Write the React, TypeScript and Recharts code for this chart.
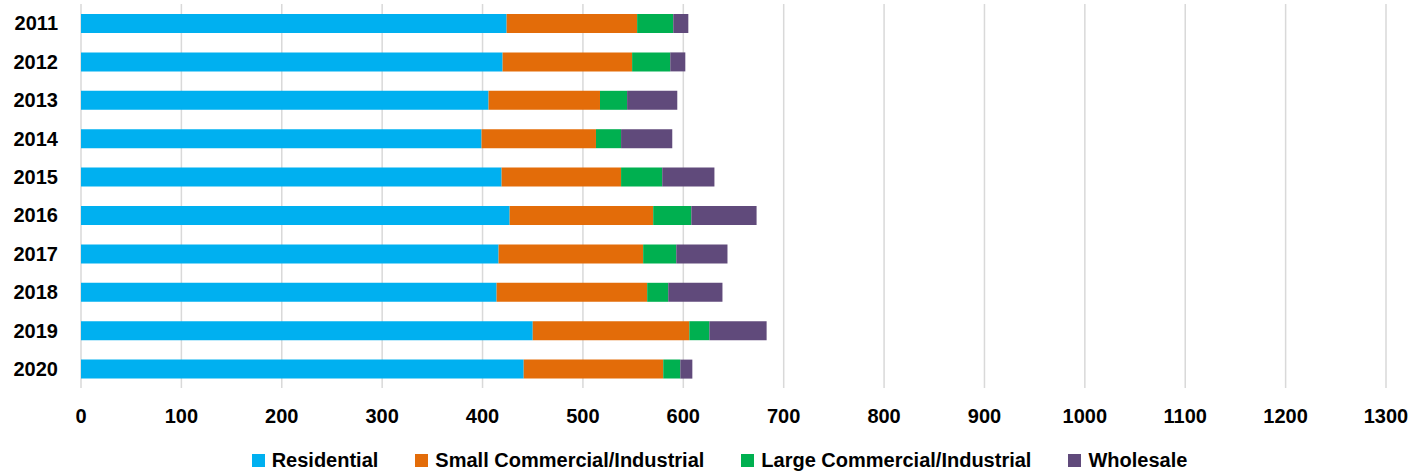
import * as React from 'react';
import { BarChart, Bar, XAxis, YAxis, CartesianGrid, Legend } from 'recharts';

const years = ['2011', '2012', '2013', '2014', '2015', '2016', '2017', '2018', '2019', '2020'];
const residential = [424, 420, 406, 399, 419, 427, 416, 414, 450, 441];
const smallCommercial = [130, 129, 111, 114, 119, 143, 144, 150, 156, 139];
const largeCommercial = [36, 38, 27, 25, 41, 38, 33, 21, 20, 17];
const wholesale = [15, 15, 50, 51, 52, 65, 51, 54, 57, 12];
const xTicks = [0, 100, 200, 300, 400, 500, 600, 700, 800, 900, 1000, 1100, 1200, 1300];

const series = [
  { key: 'residential', name: 'Residential', color: '#00b0f0' },
  { key: 'small', name: 'Small Commercial/Industrial', color: '#e36c09' },
  { key: 'large', name: 'Large Commercial/Industrial', color: '#00b050' },
  { key: 'wholesale', name: 'Wholesale', color: '#604a7b' },
];

const data = years.map((year, i) => ({
  year,
  residential: residential[i],
  small: smallCommercial[i],
  large: largeCommercial[i],
  wholesale: wholesale[i],
}));

const FONT = '"Liberation Sans", Arial, sans-serif';

function LegendContent() {
  return (
    <div
      style={{
        height: 26,
        display: 'flex',
        justifyContent: 'center',
        alignItems: 'center',
        fontFamily: FONT,
        fontWeight: 700,
        fontSize: 20,
        color: '#000',
        paddingLeft: 53,
      }}
    >
      {series.map((s, i) => (
        <div
          key={s.key}
          style={{ display: 'flex', alignItems: 'center', marginRight: i === series.length - 1 ? 0 : 37 }}
        >
          <span style={{ width: 13, height: 13, background: s.color, display: 'inline-block', marginRight: 7 }} />
          <span>{s.name}</span>
        </div>
      ))}
    </div>
  );
}

export default function App() {
  return (
    <div style={{ position: 'absolute', left: 0, top: 0, width: 1416, height: 473, background: '#fff' }}>
      <BarChart
        width={1416}
        height={473}
        data={data}
        layout="vertical"
        margin={{ top: 4, right: 30, bottom: 0, left: 0 }}
      >
        <CartesianGrid horizontal={false} stroke="#d9d9d9" strokeWidth={1.5} />
        <XAxis
          type="number"
          domain={[0, 1300]}
          ticks={xTicks}
          interval={0}
          axisLine={false}
          tickLine={false}
          tickSize={0}
          tickMargin={21}
          height={59}
          tick={{ fill: '#000', fontSize: 20, fontWeight: 700, fontFamily: FONT }}
        />
        <YAxis
          type="category"
          dataKey="year"
          width={81}
          axisLine={false}
          tickLine={false}
          tickSize={0}
          tickMargin={23}
          tick={{ fill: '#000', fontSize: 20, fontWeight: 700, fontFamily: FONT }}
        />
        <Legend verticalAlign="bottom" height={26} content={<LegendContent />} />
        {series.map((s) => (
          <Bar
            key={s.key}
            dataKey={s.key}
            name={s.name}
            stackId="a"
            fill={s.color}
            barSize={19}
            isAnimationActive={false}
          />
        ))}
      </BarChart>
    </div>
  );
}
